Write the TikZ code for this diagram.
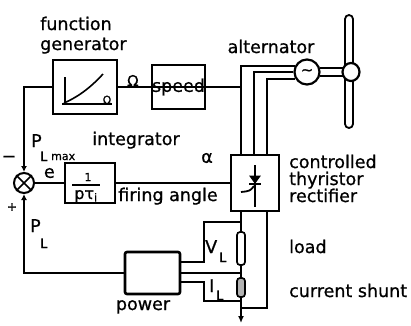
\documentclass[tikz,border=0pt]{standalone}
\usepackage{fontspec}
\setmainfont{DejaVu Sans}[FakeBold=0.8]
\usetikzlibrary{arrows.meta,shapes.geometric,calc}

\newcommand\labfont{\fontsize{17.5}{17.5}\selectfont}
\newcommand\subfont{\fontsize{13}{13}\selectfont}

\begin{document}
\begin{tikzpicture}[x=1pt,y=-1pt,
  wire/.style={line width=1.9pt},
  blk/.style={draw,line width=2.6pt,rectangle,inner sep=0pt},
  lbl/.style={font=\labfont,inner sep=0pt},
  tip/.style={-{Latex[length=6pt,width=6pt]}},
  ]
\useasboundingbox (0,0) rectangle (411,325);

% ---- blocks ----
\node[blk,minimum width=64pt,minimum height=54pt] (fg) at (85,87) {};
\node[blk,minimum width=53pt,minimum height=44pt] (spd) at (178.5,87) {};
\node[draw,circle,line width=2.2pt,minimum size=25pt,inner sep=0pt] (alt) at (307,72) {\fontsize{15}{15}\selectfont ∼};
\node[blk,minimum width=48pt,minimum height=56pt] (rect) at (255,183) {};
\node[blk,minimum width=50pt,minimum height=40pt] (integ) at (90,183) {};
\node[draw,circle,line width=2pt,minimum size=20pt,inner sep=0pt] (sum) at (24,183) {};
\node[blk,minimum width=55pt,minimum height=42pt,rounded corners=2pt] (pw) at (152.5,273) {};
\node[draw,line width=1.7pt,rounded corners=3pt,minimum width=8pt,minimum height=33pt,inner sep=0pt] (load) at (241,248.5) {};
\node[draw,fill=gray!60,line width=1.7pt,rounded corners=3pt,minimum width=8pt,minimum height=19pt,inner sep=0pt] (shunt) at (241,287.5) {};

% ---- summing junction cross ----
\draw[line width=1.6pt] (sum.45) -- (sum.225) (sum.135) -- (sum.315);

% ---- function generator characteristic ----
\draw[line width=1.6pt] (65,77) -- (65,105);
\draw[line width=1.6pt] (62,104) -- (112,104);
\draw[line width=1.6pt] (64,103) .. controls (80,96) and (92,86) .. (103,74);
\node[font=\fontsize{11}{11}\selectfont,inner sep=0pt,anchor=south] at (107,104) {Ω};

% ---- integrator transfer function ----
\node[font=\fontsize{11}{11}\selectfont,inner sep=0pt] at (88,177) {1};
\draw[line width=1.5pt] (72,185) -- (100,185);
\node[font=\fontsize{16}{16}\selectfont,inner sep=0pt,anchor=base] at (86,199) {pτ\textsubscript{i}};

% ---- thyristor symbol ----
\draw[line width=1.6pt] (255,165) -- (255,207);
\filldraw[line width=1pt] (250,176) -- (260,176) -- (255,183) -- cycle;
\draw[line width=1.6pt] (249,184) -- (261,184);
\draw[line width=1.8pt] (254,186) .. controls (250,191) .. (241,192);

% ---- wind turbine ----
\coordinate (hubc) at (351,72);
\draw[line width=1.8pt,fill=white,rounded corners=4pt] (345,15) rectangle (353,128);
\draw[wire] (alt.19) -- (alt.19 -| hubc);
\draw[wire] (alt.-19) -- (alt.-19 -| hubc);
\node[draw,ellipse,line width=2.2pt,fill=white,minimum width=17pt,minimum height=18pt,inner sep=0pt] (hub) at (hubc) {};

% ---- alternator to rectifier ----
\coordinate (w1) at ([xshift=-14pt]rect.north);
\coordinate (w2) at ([xshift=-1pt]rect.north);
\coordinate (w3) at ([xshift=12pt]rect.north);
\draw[wire] (alt.155) -| (w1);
\draw[wire] (alt.west) -| (w2);
\draw[wire] (alt.210) -| (w3);

% ---- speed path ----
\draw[wire] (fg.east) -- node[pos=0.45,anchor=south,inner sep=0pt,font=\fontsize{15}{15}\selectfont] (om) {Ω} (spd.west);
\draw[wire] (spd.west) -- (spd.east);
\node[lbl] at (spd.center) {speed};
\draw[wire] (spd.east) -- (spd.east -| w1);

% ---- control loop ----
\draw[wire,tip] (fg.west) -| (sum.north);
\draw[wire,tip] (pw.west) -| (sum.south);
\draw[wire] (sum.east) -- node[lbl,above=4pt] {e} (integ.west);
\draw[wire] (integ.east) -- (rect.west);

% ---- load circuit ----
\coordinate (tv) at (241,222);
\coordinate (ti) at (241,301);
\coordinate (gnd) at (241,308);
\draw[wire] ([xshift=-14pt]rect.south) -- (load.north);
\draw[wire] (load.south) -- (shunt.north);
\draw[wire] (shunt.south) -- (gnd);
\draw[wire] ([xshift=12pt]rect.south) |- (gnd);
\draw[wire,-{Latex[length=7pt,width=6pt]}] (gnd) -- ++(0,15);
\draw[wire] ([yshift=11pt]pw.east) -- ++(23,0) |- (tv);
\draw[wire] (pw.east) -- (pw.east -| load.south);
\draw[wire] ([yshift=-9pt]pw.east) -- ++(23,0) |- (ti);

% ---- labels ----
\node[lbl,anchor=base west] at (40,30) {function};
\node[lbl,anchor=base west] at (40,50) {generator};
\node[lbl,anchor=base] at (271,53) {alternator};
\node[lbl,anchor=base] at (136,145) {integrator};
\node[lbl,anchor=base] at (168,201) {firing angle};
\node[lbl] at (207,158) {α};
\node[lbl,anchor=base west] at (289,168) {controlled};
\node[lbl,anchor=base west] at (289,185) {thyristor};
\node[lbl,anchor=base west] at (289,202) {rectifier};
\node[lbl,anchor=base west] at (289,253) {load};
\node[lbl,anchor=base west] at (289,297) {current shunt};
\node[lbl,anchor=base] at (143,310) {power};
\node[lbl,anchor=base west] at (31,147) {P};
\node[lbl,anchor=base west] at (40,161) {\subfont L};
\node[lbl,anchor=base west] at (51,160) {\fontsize{11}{11}\selectfont max};
\node[lbl,anchor=base west] at (30,232) {P};
\node[lbl,anchor=base west] at (40,248) {\subfont L};
\node[lbl,anchor=base west] at (205,253) {V};
\node[lbl,anchor=base west] at (219,262) {\subfont L};
\node[lbl,anchor=base west] at (209,292) {I};
\node[lbl,anchor=base west] at (216,300) {\subfont L};
\node[lbl] at (9,159) {−};
\node[font=\fontsize{12}{12}\selectfont,inner sep=0pt] at (12,207) {+};
\end{tikzpicture}
\end{document}
